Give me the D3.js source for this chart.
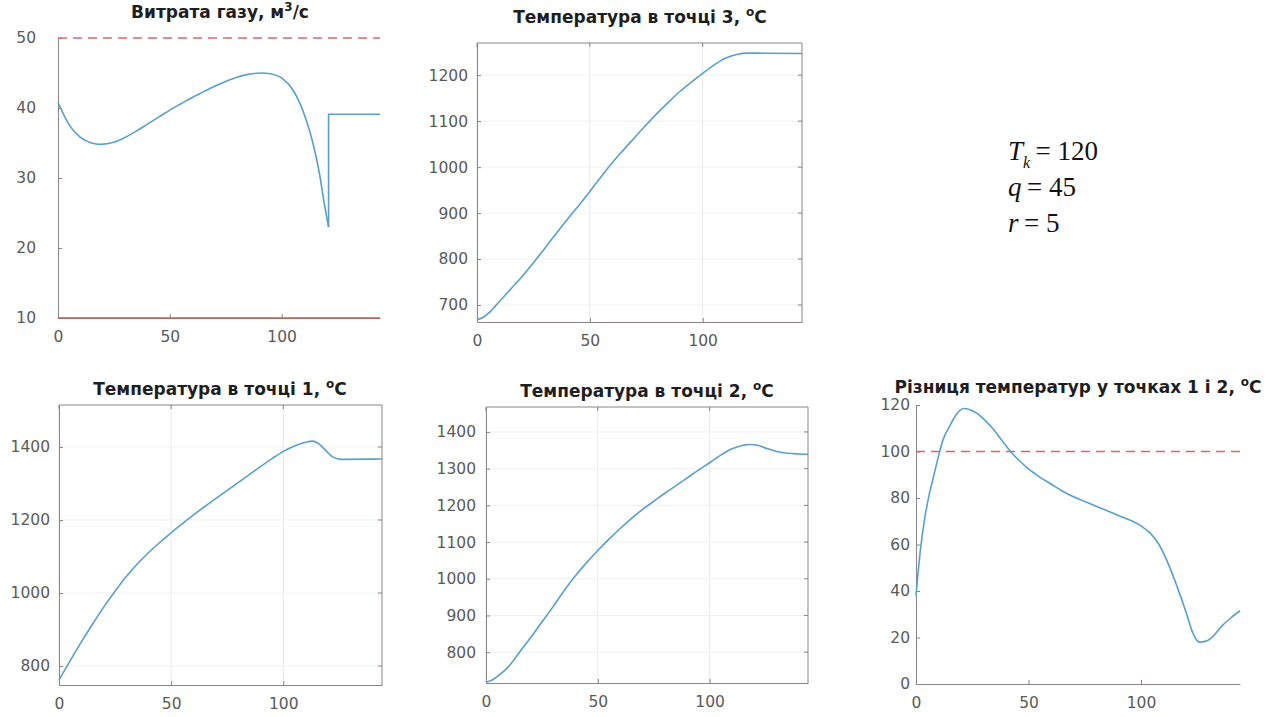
<!DOCTYPE html>
<html><head><meta charset="utf-8">
<script src="https://cdn.jsdelivr.net/npm/d3@7"></script>
<style>
body{margin:0;background:#fff}
text{font-family:"DejaVu Sans",sans-serif}
</style>
</head><body>
<svg id="c" width="1288" height="717"></svg>
<script>
// ---------- data ----------
const xTicks = [0, 50, 100];
const xMax = 144;

const gasTime = [0, 2, 5, 10, 15, 19, 25, 30, 35, 40, 45, 50, 55, 60, 65, 70, 75, 80, 85, 91, 95, 100, 105, 108, 111, 114, 117, 119, 121, 121, 144];
const gasFlow = [40.8, 39.4, 37.6, 35.8, 35.0, 34.8, 35.1, 35.8, 36.7, 37.7, 38.7, 39.7, 40.6, 41.5, 42.3, 43.1, 43.8, 44.4, 44.8, 45.0, 44.9, 44.3, 42.6, 40.8, 38.3, 35.0, 30.5, 26.5, 23.0, 39.1, 39.1];
const gasUpper = 50;
const gasLower = 10;
const gasTicks = [10, 20, 30, 40, 50];

const t3Time = [0, 3, 6, 8, 10, 15, 20, 25, 30, 35, 40, 45, 50, 55, 60, 65, 70, 75, 80, 85, 90, 95, 100, 105, 110, 115, 120, 144];
const t3Temp = [668, 674, 686, 697, 708, 735, 762, 792, 823, 855, 886, 916, 947, 979, 1010, 1038, 1065, 1092, 1118, 1142, 1165, 1185, 1204, 1222, 1237, 1245, 1248, 1247];
const t3Ticks = [700, 800, 900, 1000, 1100, 1200];

const t1Time = [0, 5, 10, 15, 20, 25, 30, 35, 40, 45, 50, 55, 60, 65, 70, 75, 80, 85, 90, 95, 100, 105, 110, 113, 116, 119, 122, 126, 144];
const t1Temp = [762, 815, 866, 915, 962, 1005, 1045, 1080, 1111, 1139, 1165, 1190, 1214, 1237, 1259, 1281, 1303, 1325, 1347, 1368, 1388, 1403, 1413, 1416, 1408, 1390, 1373, 1366, 1367];
const t1Ticks = [800, 1000, 1200, 1400];

const t2Time = [0, 3, 6, 10, 15, 20, 25, 30, 35, 40, 45, 50, 55, 60, 65, 70, 75, 80, 85, 90, 95, 100, 105, 110, 115, 118, 122, 126, 130, 135, 140, 144];
const t2Temp = [718, 725, 738, 760, 800, 840, 882, 924, 968, 1008, 1044, 1077, 1108, 1137, 1164, 1189, 1211, 1233, 1254, 1275, 1296, 1316, 1337, 1354, 1364, 1366, 1363, 1354, 1347, 1342, 1340, 1339];
const t2Ticks = [800, 900, 1000, 1100, 1200, 1300, 1400];

const diffTime = [0, 2, 4, 6, 8, 10, 12, 15, 18, 21, 24, 27, 30, 34, 38, 42, 46, 50, 55, 60, 65, 70, 75, 80, 85, 90, 95, 100, 104, 108, 112, 116, 120, 123, 126, 129, 132, 136, 140, 144];
const diffTemp = [38, 58, 72, 82, 90, 98, 105, 111, 116, 118.5, 118, 116.5, 114, 110, 105, 100, 96, 92.5, 89, 86, 83, 80.5, 78.5, 76.5, 74.5, 72.5, 70.5, 68, 65, 60, 52, 42, 31, 22, 18, 18.5, 20.5, 25, 28.5, 31.5];
const diffLimit = 100;
const diffTicks = [0, 20, 40, 60, 80, 100, 120];

// ---------- layout ----------
const blue = "#5a9fca", red = "#e06464", axisCol = "#8c8484", tickCol = "#5a5a5a";
const svg = d3.select("#c");

const panels = [
  {title: ["Витрата газу, м", "3", "/с"], x0: 58, x1: 380, y0: 38, y1: 318, ydom: [10, 50], ticks: gasTicks,
   box: false, grid: false, cx: 220, ty: 18, pad: 22,
   series: [{t: gasTime, v: gasFlow}],
   hlines: [{v: gasUpper, dash: "9,6"}, {v: gasLower, dash: null}]},
  {title: ["Температура в точці 3, ", "o", "C"], x0: 477, x1: 802, y0: 43, y1: 322, ydom: [663, 1270], ticks: t3Ticks,
   box: true, grid: true, cx: 640, ty: 23, pad: 9,
   series: [{t: t3Time, v: t3Temp}], hlines: []},
  {title: ["Температура в точці 1, ", "o", "C"], x0: 59, x1: 382, y0: 405, y1: 685, ydom: [748, 1515], ticks: t1Ticks,
   box: true, grid: true, cx: 220, ty: 395, pad: 9,
   series: [{t: t1Time, v: t1Temp}], hlines: []},
  {title: ["Температура в точці 2, ", "o", "C"], x0: 486, x1: 808, y0: 407, y1: 683, ydom: [716, 1468], ticks: t2Ticks,
   box: true, grid: true, cx: 647, ty: 397, pad: 10,
   series: [{t: t2Time, v: t2Temp}], hlines: []},
  {title: ["Різниця температур у точках 1 і 2, ", "o", "C"], x0: 916, x1: 1240, y0: 405, y1: 684, ydom: [0, 120], ticks: diffTicks,
   box: false, grid: false, cx: 1078, ty: 393, pad: 6,
   series: [{t: diffTime, v: diffTemp}], hlines: [{v: diffLimit, dash: "9,6"}]}
];

panels.forEach(p => {
  const x = d3.scaleLinear().domain([0, xMax]).range([p.x0, p.x1]);
  const y = d3.scaleLinear().domain(p.ydom).range([p.y1, p.y0]);
  const g = svg.append("g");

  if (p.grid) {
    g.selectAll(".gx").data(xTicks).join("line")
      .attr("x1", d => x(d)).attr("x2", d => x(d)).attr("y1", p.y0).attr("y2", p.y1)
      .attr("stroke", "#e8e8e8").attr("stroke-width", 1);
    g.selectAll(".gy").data(p.ticks).join("line")
      .attr("x1", p.x0).attr("x2", p.x1).attr("y1", d => y(d)).attr("y2", d => y(d))
      .attr("stroke", "#f0f0f0").attr("stroke-width", 1);
  }

  const fmt = d3.format("d");
  const ax = g.append("g").attr("transform", `translate(0,${p.y1})`)
    .call(d3.axisBottom(x).tickValues(xTicks).tickFormat(fmt).tickSize(-4).tickSizeOuter(0).tickPadding(13));
  const ay = g.append("g").attr("transform", `translate(${p.x0},0)`)
    .call(d3.axisLeft(y).tickValues(p.ticks).tickFormat(fmt).tickSize(-4).tickSizeOuter(0).tickPadding(p.pad));
  [ax, ay].forEach(a => {
    a.selectAll("path,line").attr("stroke", axisCol);
    a.selectAll("text").attr("fill", tickCol).style("font-size", "15.5px");
  });

  if (p.box) {
    g.append("line").attr("x1", p.x0).attr("x2", p.x1).attr("y1", p.y0).attr("y2", p.y0).attr("stroke", axisCol);
    g.append("line").attr("x1", p.x1).attr("x2", p.x1).attr("y1", p.y0).attr("y2", p.y1).attr("stroke", axisCol);
    g.selectAll(".tt").data(xTicks).join("line")
      .attr("x1", d => x(d)).attr("x2", d => x(d)).attr("y1", p.y0).attr("y2", p.y0 + 4).attr("stroke", axisCol);
    g.selectAll(".tr").data(p.ticks).join("line")
      .attr("x1", p.x1 - 4).attr("x2", p.x1).attr("y1", d => y(d)).attr("y2", d => y(d)).attr("stroke", axisCol);
  }

  p.hlines.forEach(h => {
    g.append("line").attr("x1", x(0)).attr("x2", x(xMax)).attr("y1", y(h.v)).attr("y2", y(h.v))
      .attr("stroke", h.dash ? red : "#cc5a52").attr("stroke-width", 1.3)
      .attr("stroke-dasharray", h.dash);
  });

  p.series.forEach(s => {
    const pts = s.t.map((t, i) => [t, s.v[i]]);
    const segs = [[pts[0]]];
    for (let i = 1; i < pts.length; i++) {
      if (pts[i][0] === pts[i - 1][0]) segs.push([pts[i - 1]]);
      segs[segs.length - 1].push(pts[i]);
    }
    segs.forEach((seg, k) => {
      const line = d3.line().x(d => x(d[0])).y(d => y(d[1]))
        .curve(seg.length > 2 && k === 0 ? d3.curveMonotoneX : d3.curveLinear);
      g.append("path").attr("d", line(seg)).attr("fill", "none")
        .attr("stroke", blue).attr("stroke-width", 1.6).attr("stroke-linejoin", "round");
    });
  });

  const t = g.append("text").attr("x", p.cx).attr("y", p.ty).attr("text-anchor", "middle")
    .style("font-size", "17px").style("font-weight", "bold").attr("fill", "#1e1e1e");
  t.append("tspan").text(p.title[0]);
  t.append("tspan").attr("dy", -7).style("font-size", "12px").text(p.title[1]);
  t.append("tspan").attr("dy", 7).text(p.title[2]);
});

const params = [
  {sym: "T", sub: "k", val: "120"},
  {sym: "q", sub: null, val: "45"},
  {sym: "r", sub: null, val: "5"}
];
params.forEach((pr, i) => {
  const t = svg.append("text").attr("x", 1008).attr("y", 160 + i * 36)
    .style("font-family", "'Liberation Serif', serif").style("font-size", "27px").attr("fill", "#111");
  t.append("tspan").style("font-style", "italic").text(pr.sym);
  if (pr.sub) {
    t.append("tspan").style("font-style", "italic").style("font-size", "16px").attr("dy", 8).text(pr.sub);
    t.append("tspan").attr("dy", -8).text("\u2009= " + pr.val);
  } else {
    t.append("tspan").text("\u2009= " + pr.val);
  }
});
</script>
</body></html>
